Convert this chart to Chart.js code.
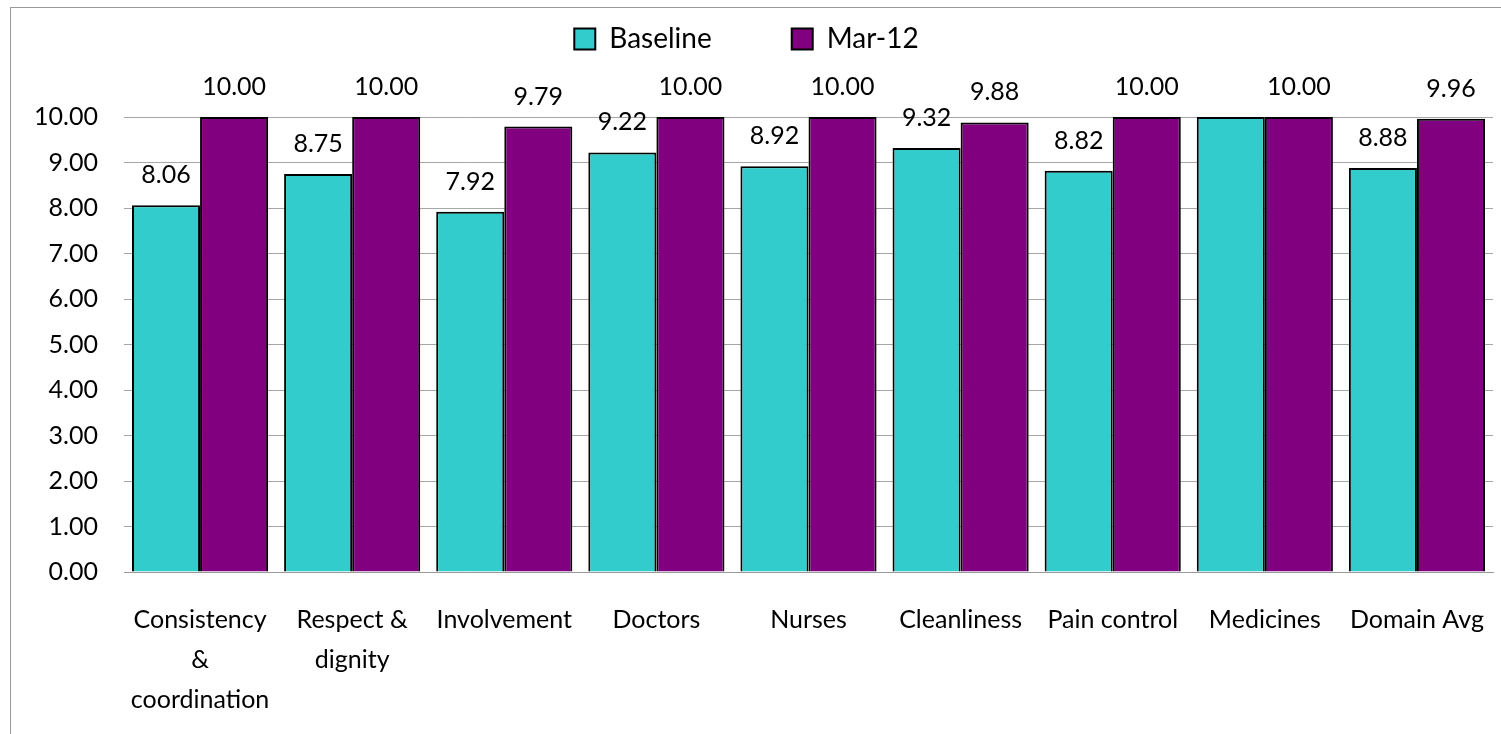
<!DOCTYPE html>
<html>
<head>
<meta charset="utf-8">
<script src="https://cdn.jsdelivr.net/npm/chart.js@4/dist/chart.umd.min.js"></script>
<style>
  html, body { margin: 0; padding: 0; background: #fff; overflow: hidden; }
  #wrap { position: absolute; left: 0; top: 0; width: 1501px; height: 734px; }
  #frame { position: absolute; left: 10px; top: 7px; width: 1600px; height: 800px;
           border-left: 1px solid #999; border-top: 1px solid #999; pointer-events: none; }
</style>
</head>
<body>
<div id="wrap"><canvas id="chart" width="1501" height="734"></canvas></div>
<div id="frame"></div>
<script>
// ── data
const categories = [
  ['Consistency', '&', 'coordination'],
  ['Respect &', 'dignity'],
  'Involvement', 'Doctors', 'Nurses', 'Cleanliness', 'Pain control', 'Medicines', 'Domain Avg'
];
const baseline = [8.06, 8.75, 7.92, 9.22, 8.92, 9.32, 8.82, 10.00, 8.88];
const mar12    = [10.00, 10.00, 9.79, 10.00, 10.00, 9.88, 10.00, 10.00, 9.96];
const yTicks   = [0, 1, 2, 3, 4, 5, 6, 7, 8, 9, 10];

const FONT = 'Lato, "Open Sans", sans-serif';
const FSIZE = 25;

// value labels above bars (baseline label dropped when it would sit on the Mar-12 one)
const barLabels = {
  id: 'barLabels',
  afterDatasetsDraw(chart) {
    const ctx = chart.ctx;
    ctx.save();
    ctx.font = `${FSIZE}px ${FONT}`;
    ctx.fillStyle = '#000';
    ctx.textAlign = 'center';
    ctx.textBaseline = 'alphabetic';
    chart.data.datasets.forEach((ds, di) => {
      chart.getDatasetMeta(di).data.forEach((bar, i) => {
        if (di === 0 && ds.data[i] >= chart.data.datasets[1].data[i]) return;
        ctx.fillText(ds.data[i].toFixed(2), bar.x, bar.y - 22);
      });
    });
    ctx.restore();
  }
};

// legend takes the whole band above the plot
const legendBand = {
  id: 'legendBand',
  beforeInit(chart) {
    const fit = chart.legend.fit;
    chart.legend.fit = function () {
      fit.call(this);
      this.height = 172;
    };
  }
};

new Chart(document.getElementById('chart'), {
  type: 'bar',
  data: {
    labels: categories,
    datasets: [
      { label: 'Baseline', data: baseline, backgroundColor: '#33CCCC', borderColor: '#000', borderWidth: 2,
        categoryPercentage: 0.895, barPercentage: 1.0 },
      { label: 'Mar-12', data: mar12, backgroundColor: '#800080', borderColor: '#000', borderWidth: 2,
        categoryPercentage: 0.895, barPercentage: 1.0 }
    ]
  },
  options: {
    responsive: false,
    animation: false,
    layout: { padding: { top: -55, left: 0, right: 8, bottom: 0 } },
    plugins: {
      legend: {
        position: 'top',
        labels: {
          boxWidth: 21, boxHeight: 21, padding: 80,
          color: '#000', font: { family: FONT, size: 28 }
        }
      },
      tooltip: { enabled: false }
    },
    scales: {
      x: {
        grid: { display: false },
        border: { display: true, color: '#999' },
        ticks: { color: '#000', font: { family: FONT, size: FSIZE, lineHeight: 1.6 },
                 autoSkip: false, maxRotation: 0, padding: 20 },
        afterFit(s) { s.height = 162; s.paddingLeft = 0; s.paddingRight = 0; }
      },
      y: {
        min: 0, max: 10,
        afterBuildTicks(s) { s.ticks = yTicks.map(v => ({ value: v })); },
        grid: { color: '#a6a6a6', drawTicks: false },
        border: { display: false },
        ticks: { color: '#000', font: { family: FONT, size: FSIZE }, padding: 26,
                 callback: v => Number(v).toFixed(2) },
        afterFit(s) { s.width = 124; }
      }
    }
  },
  plugins: [barLabels, legendBand]
});
</script>
</body>
</html>
